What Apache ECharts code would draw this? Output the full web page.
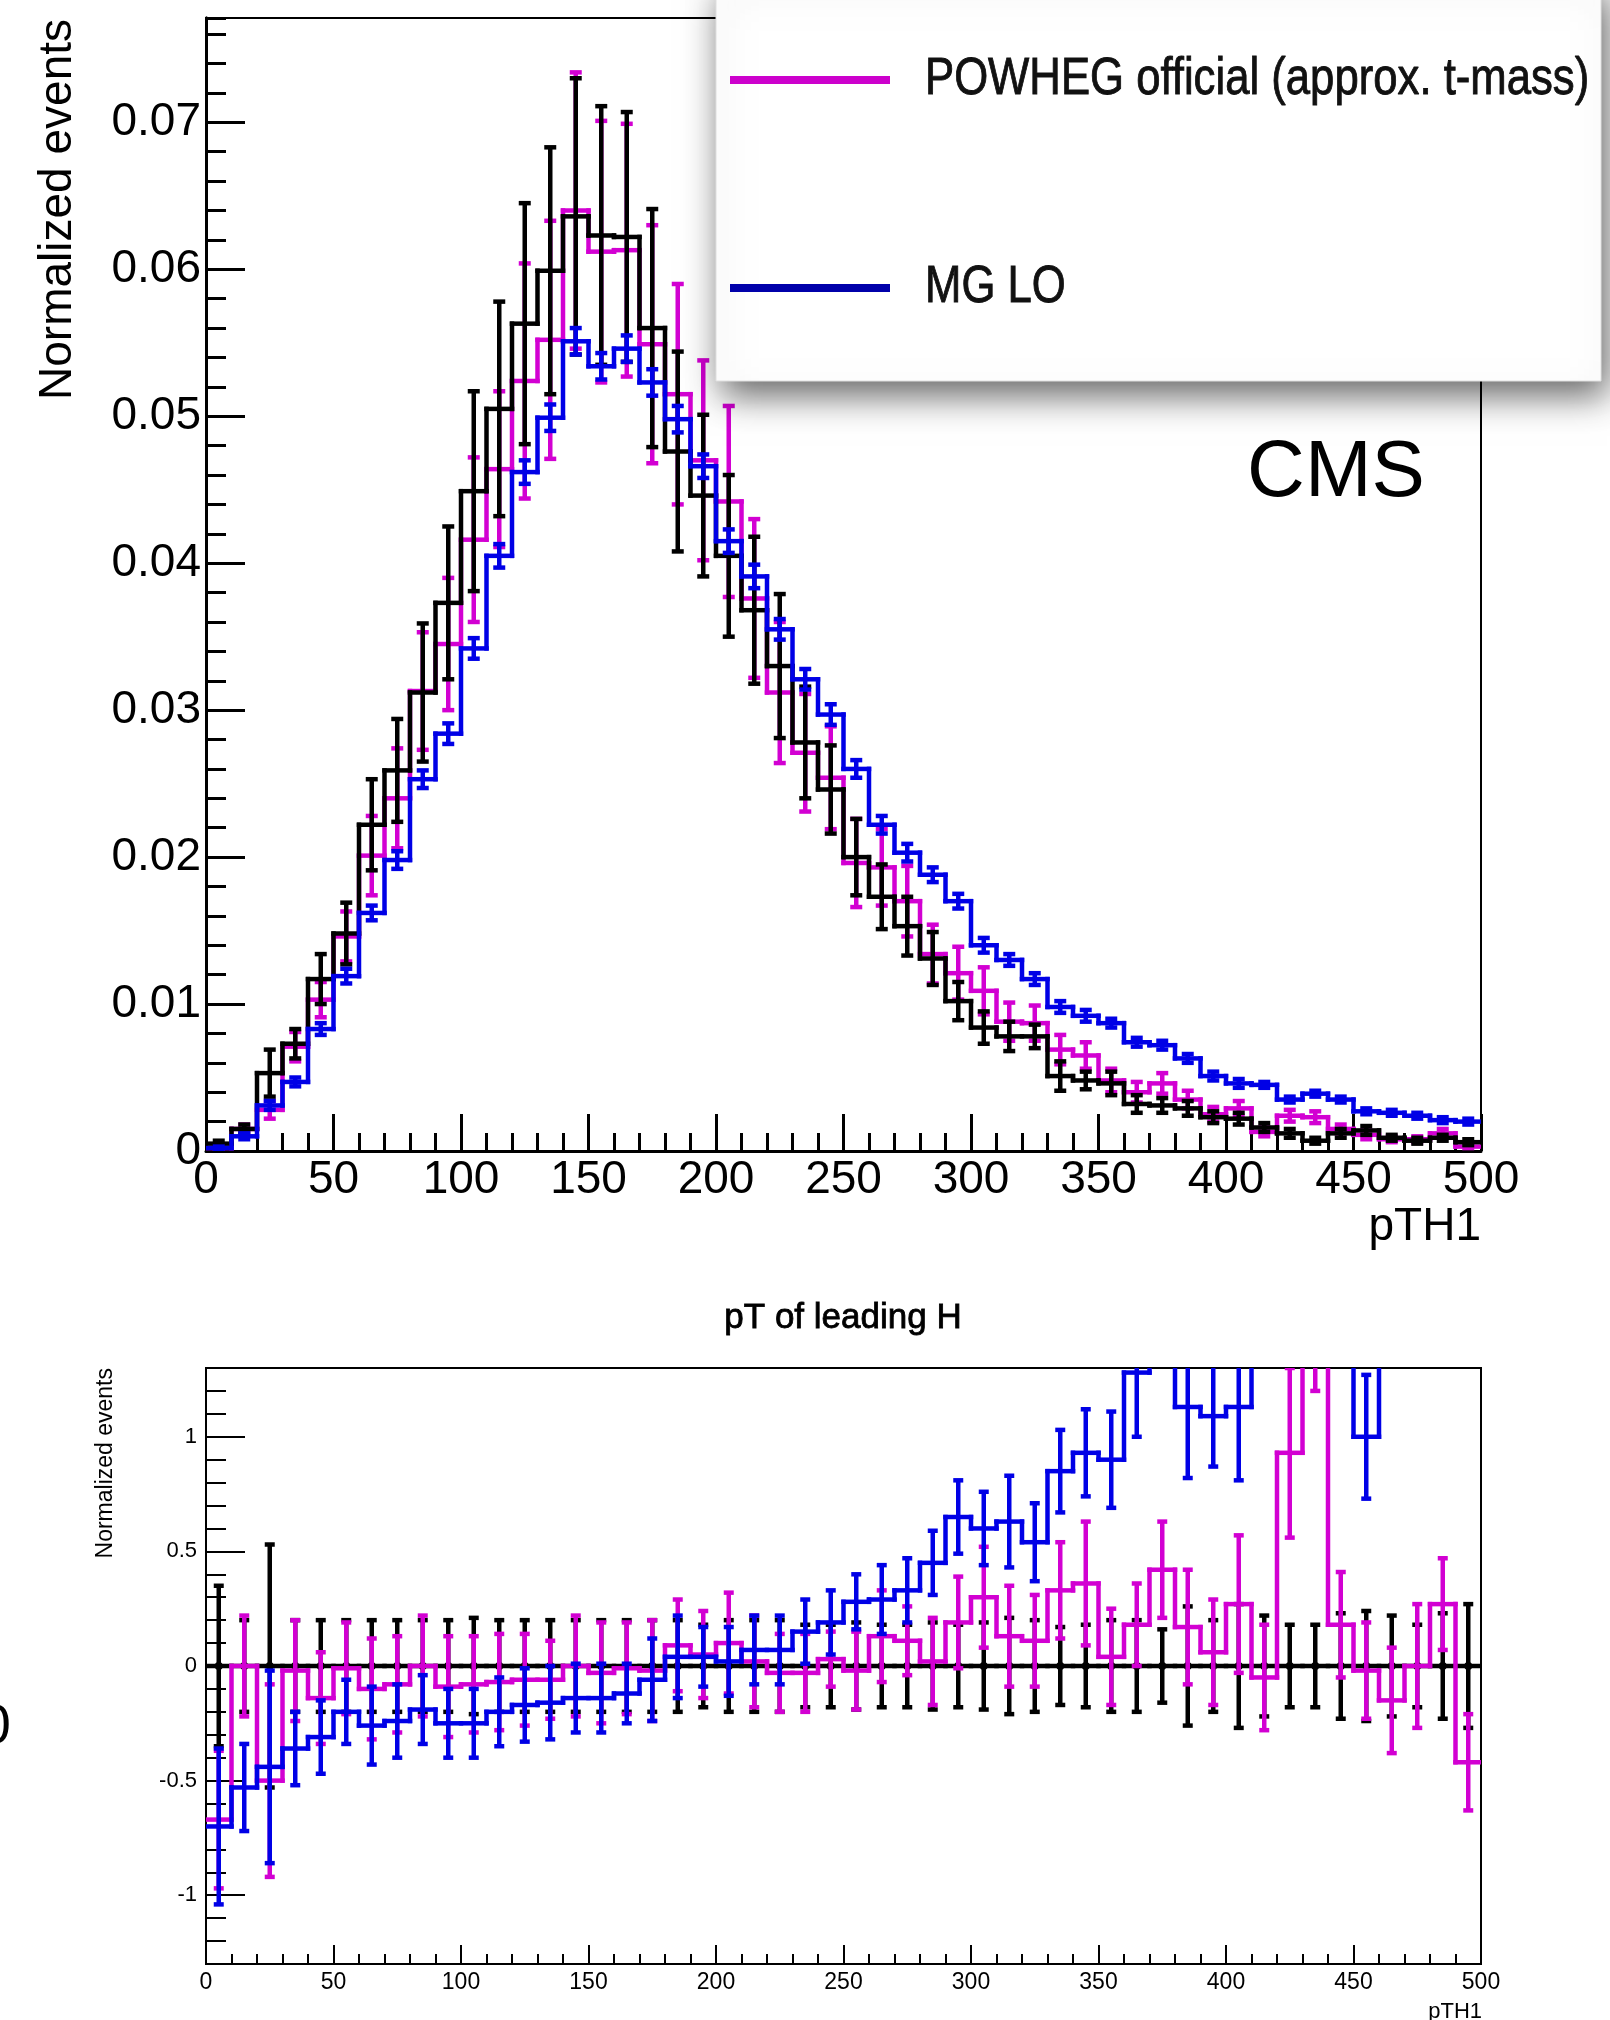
<!DOCTYPE html>
<html><head><meta charset="utf-8">
<script src="https://cdn.jsdelivr.net/npm/echarts@6/dist/echarts.min.js"></script>
<style>html,body{margin:0;padding:0;background:#fff}#c{width:1610px;height:2020px}</style>
</head><body><div id="c"></div>
<script>
// ---------- DATA ----------
const binLow  = [0,10,20,30,40,50,60,70,80,90,100,110,120,130,140,150,160,170,180,190,200,210,220,230,240,250,260,270,280,290,300,310,320,330,340,350,360,370,380,390,400,410,420,430,440,450,460,470,480,490];
const binHigh = [10,20,30,40,50,60,70,80,90,100,110,120,130,140,150,160,170,180,190,200,210,220,230,240,250,260,270,280,290,300,310,320,330,340,350,360,370,380,390,400,410,420,430,440,450,460,470,480,490,500];

// top panel: normalized events
const refVals = [0.0005,0.0015,0.0053,0.0073,0.0117,0.0148,0.0222,0.0259,0.0312,0.0373,0.0449,0.0505,0.0563,0.0599,0.0636,0.0623,0.0622,0.0560,0.0476,0.0446,0.0405,0.0368,0.0330,0.0278,0.0246,0.0200,0.0173,0.0153,0.0131,0.0102,0.0084,0.0078,0.0078,0.0051,0.0048,0.0046,0.0032,0.0031,0.0029,0.0023,0.0022,0.0016,0.0012,0.0007,0.0012,0.0014,0.0009,0.0007,0.0009,0.0006];
const refErrs = [0.0002,0.0003,0.0016,0.0010,0.0017,0.0021,0.0031,0.0035,0.0047,0.0052,0.0068,0.0073,0.0082,0.0084,0.0094,0.0088,0.0085,0.0081,0.0068,0.0055,0.0055,0.0050,0.0049,0.0038,0.0030,0.0026,0.0022,0.0020,0.0018,0.0013,0.0011,0.0010,0.0008,0.0010,0.0006,0.0008,0.0006,0.0005,0.0005,0.0004,0.0004,0.0003,0.0003,0.0002,0.0003,0.0003,0.0002,0.0002,0.0002,0.0002];
const powhegVals = [0.0002,0.0015,0.0028,0.0071,0.0103,0.0146,0.0201,0.0240,0.0313,0.0345,0.0416,0.0464,0.0524,0.0552,0.0640,0.0612,0.0613,0.0549,0.0515,0.0470,0.0442,0.0376,0.0312,0.0271,0.0254,0.0196,0.0193,0.0170,0.0134,0.0121,0.0109,0.0088,0.0087,0.0069,0.0065,0.0048,0.0040,0.0046,0.0035,0.0025,0.0029,0.0013,0.0024,0.0023,0.0015,0.0011,0.0008,0.0008,0.0012,0.0003];
const powhegErrs = [0.0001,0.0003,0.0006,0.0010,0.0012,0.0017,0.0027,0.0034,0.0040,0.0045,0.0056,0.0053,0.0080,0.0081,0.0094,0.0089,0.0086,0.0081,0.0075,0.0068,0.0065,0.0054,0.0048,0.0040,0.0035,0.0030,0.0026,0.0024,0.0020,0.0018,0.0016,0.0013,0.0012,0.0010,0.0009,0.0008,0.0007,0.0007,0.0006,0.0005,0.0005,0.0003,0.0004,0.0004,0.0003,0.0003,0.0002,0.0002,0.0003,0.0001];
const mgloVals = [0.0002,0.0010,0.0031,0.0047,0.0083,0.0119,0.0162,0.0198,0.0253,0.0284,0.0342,0.0405,0.0462,0.0499,0.0551,0.0534,0.0546,0.0523,0.0498,0.0466,0.0415,0.0391,0.0355,0.0321,0.0297,0.0260,0.0222,0.0203,0.0188,0.0170,0.0140,0.0130,0.0117,0.0098,0.0092,0.0087,0.0074,0.0072,0.0063,0.0051,0.0046,0.0045,0.0035,0.0039,0.0035,0.0027,0.0026,0.0024,0.0021,0.0020];
const mgloErrs = [0.0001,0.0002,0.0003,0.0003,0.0004,0.0005,0.0005,0.0006,0.0006,0.0007,0.0007,0.0008,0.0008,0.0009,0.0009,0.0009,0.0009,0.0009,0.0009,0.0008,0.0008,0.0008,0.0007,0.0007,0.0007,0.0006,0.0006,0.0006,0.0005,0.0005,0.0005,0.0004,0.0004,0.0004,0.0004,0.0003,0.0003,0.0003,0.0003,0.0003,0.0003,0.0002,0.0002,0.0002,0.0002,0.0002,0.0002,0.0002,0.0002,0.0002];

// bottom panel: relative difference
const refRatio = [0,0,0,0,0,0,0,0,0,0,0,0,0,0,0,0,0,0,0,0,0,0,0,0,0,0,0,0,0,0,0,0,0,0,0,0,0,0,0,0,0,0,0,0,0,0,0,0,0,0];
const refRatioErr = [0.35,0.20,0.53,0.20,0.20,0.20,0.20,0.20,0.20,0.20,0.21,0.20,0.20,0.20,0.20,0.20,0.20,0.20,0.20,0.18,0.20,0.20,0.20,0.18,0.18,0.19,0.18,0.18,0.19,0.18,0.19,0.21,0.20,0.17,0.18,0.20,0.20,0.16,0.26,0.20,0.27,0.22,0.18,0.18,0.23,0.24,0.22,0.18,0.23,0.27];
const powhegRatio = [-0.67,0.00,-0.50,-0.02,-0.14,-0.01,-0.10,-0.08,0.00,-0.09,-0.08,-0.07,-0.06,-0.06,0.00,-0.03,-0.01,-0.02,0.09,0.05,0.10,0.02,-0.03,-0.03,0.03,-0.02,0.13,0.11,0.02,0.19,0.30,0.13,0.11,0.33,0.36,0.04,0.18,0.42,0.17,0.06,0.27,-0.05,0.93,1.60,0.18,-0.02,-0.15,0.00,0.27,-0.42];
const powhegRatioErr = [0.30,0.22,0.42,0.22,0.20,0.20,0.22,0.21,0.22,0.22,0.21,0.21,0.20,0.17,0.22,0.22,0.20,0.22,0.20,0.19,0.22,0.20,0.17,0.17,0.12,0.17,0.20,0.15,0.19,0.20,0.22,0.22,0.20,0.21,0.27,0.21,0.18,0.21,0.25,0.23,0.30,0.23,0.37,0.40,0.23,0.21,0.23,0.27,0.20,0.21];
const mgloRatio = [-0.70,-0.53,-0.44,-0.36,-0.31,-0.20,-0.26,-0.24,-0.19,-0.25,-0.25,-0.20,-0.17,-0.16,-0.14,-0.14,-0.12,-0.06,0.04,0.04,0.02,0.07,0.07,0.15,0.19,0.28,0.29,0.33,0.45,0.65,0.60,0.63,0.54,0.85,0.93,0.90,1.28,1.70,1.13,1.09,1.13,1.60,1.80,1.70,1.75,1.00,1.90,1.95,2.00,2.10];
const mgloRatioErr = [0.34,0.19,0.42,0.16,0.16,0.14,0.17,0.16,0.15,0.15,0.15,0.15,0.16,0.16,0.15,0.15,0.13,0.18,0.18,0.13,0.15,0.15,0.15,0.14,0.14,0.12,0.15,0.14,0.14,0.16,0.16,0.20,0.17,0.18,0.19,0.21,0.28,0.30,0.31,0.22,0.32,0.25,0.30,0.30,0.30,0.27,0.30,0.30,0.30,0.30];

// texts
const legendLabels = ['POWHEG official (approx. t-mass)', 'MG LO'];
const topTitleX = 'pTH1';
const topTitleY = 'Normalized events';
const bottomTitle = 'pT of leading H';

// ---------- STYLE ----------
const FONT = '"Liberation Sans", Arial, Helvetica, sans-serif';
const C_MAG = '#d200d2';
const C_BLUE = '#0000e6';
const C_BLACK = '#000000';

function mkData(vals, errs) {
  return vals.map((v, i) => [binLow[i], binHigh[i], v, errs[i], i + 1 < vals.length ? vals[i + 1] : v]);
}

function histRender(color, lw, cap, dot) {
  return function (params, api) {
    const lo = api.value(0), hi = api.value(1), v = api.value(2), e = api.value(3), nv = api.value(4);
    const mid = (lo + hi) / 2;
    const a = api.coord([lo, v]), b = api.coord([hi, v]);
    const t = api.coord([mid, v + e]), bt = api.coord([mid, v - e]);
    const n = api.coord([hi, nv]);
    const sStep = { stroke: color, lineWidth: lw, fill: null, lineCap: 'square' };
    const sErr = { stroke: color, lineWidth: lw, fill: null, lineCap: 'butt' };
    const ch = [
      { type: 'line', shape: { x1: a[0], y1: a[1], x2: b[0], y2: b[1] }, style: sStep },
      { type: 'line', shape: { x1: b[0], y1: b[1], x2: n[0], y2: n[1] }, style: sStep },
      { type: 'line', shape: { x1: t[0], y1: t[1], x2: bt[0], y2: bt[1] }, style: sErr },
      { type: 'line', shape: { x1: t[0] - cap, y1: t[1], x2: t[0] + cap, y2: t[1] }, style: sErr },
      { type: 'line', shape: { x1: bt[0] - cap, y1: bt[1], x2: bt[0] + cap, y2: bt[1] }, style: sErr }
    ];
    if (dot) {
      const c = api.coord([mid, v]);
      ch.push({ type: 'circle', shape: { cx: c[0], cy: c[1], r: dot }, style: { fill: color } });
    }
    return { type: 'group', children: ch };
  };
}

function hist(name, xi, yi, vals, errs, color, lw, cap, dot) {
  return {
    type: 'custom', name, xAxisIndex: xi, yAxisIndex: yi, clip: true, silent: true,
    renderItem: histRender(color, lw, cap, dot), encode: { x: [0, 1], y: 2 },
    data: mkData(vals, errs)
  };
}

const lineBlack = (w) => ({ color: '#000', width: w });

const option = {
  animation: false,
  backgroundColor: '#fff',
  grid: [
    { left: 206, top: 18, width: 1275, height: 1133, show: true, borderColor: '#000', borderWidth: 2, backgroundColor: 'rgba(0,0,0,0)' },
    { left: 206, top: 1368, width: 1275, height: 596, show: true, borderColor: '#000', borderWidth: 2, backgroundColor: 'rgba(0,0,0,0)' }
  ],
  xAxis: [
    { gridIndex: 0, type: 'value', position: 'bottom', min: 0, max: 500, interval: 50,
      axisLine: { show: true, onZero: false, lineStyle: lineBlack(3) },
      axisTick: { show: true, inside: true, length: 37, lineStyle: lineBlack(3) },
      minorTick: { show: true, splitNumber: 5, length: 18, lineStyle: lineBlack(3) },
      axisLabel: { fontSize: 46, color: '#000', fontFamily: FONT, margin: 6 },
      splitLine: { show: false }, minorSplitLine: { show: false } },
    { gridIndex: 1, type: 'value', position: 'bottom', min: 0, max: 500, interval: 50,
      axisLine: { show: true, onZero: false, lineStyle: lineBlack(2) },
      axisTick: { show: true, inside: true, length: 19, lineStyle: lineBlack(2) },
      minorTick: { show: true, splitNumber: 5, length: 10, lineStyle: lineBlack(2) },
      axisLabel: { fontSize: 23, color: '#000', fontFamily: FONT, margin: 7 },
      splitLine: { show: false }, minorSplitLine: { show: false } }
  ],
  yAxis: [
    { gridIndex: 0, type: 'value', position: 'left', offset: 0, min: 0, max: 0.0771, interval: 0.01,
      axisLine: { show: true, onZero: false, lineStyle: lineBlack(3) },
      axisTick: { show: true, inside: true, length: 39, lineStyle: lineBlack(3) },
      minorTick: { show: false },
      axisLabel: { fontSize: 46, color: '#000', fontFamily: FONT, margin: 5, showMaxLabel: false },
      splitLine: { show: false } },
    { gridIndex: 0, type: 'value', position: 'left', offset: 0, min: 0, max: 0.0771, interval: 0.002,
      axisLine: { show: true, onZero: false, lineStyle: lineBlack(3) },
      axisTick: { show: true, inside: true, length: 20, lineStyle: lineBlack(3) },
      axisLabel: { show: false }, splitLine: { show: false } },
    { gridIndex: 1, type: 'value', position: 'left', offset: 0, min: -1.3, max: 1.3, splitNumber: 5,
      axisLine: { show: true, onZero: false, lineStyle: lineBlack(2) },
      axisTick: { show: true, inside: true, length: 39, lineStyle: lineBlack(2) },
      minorTick: { show: false },
      axisLabel: { fontSize: 22, color: '#000', fontFamily: FONT, margin: 9, showMinLabel: false, showMaxLabel: false },
      splitLine: { show: false } },
    { gridIndex: 1, type: 'value', position: 'left', offset: 0, min: -1.3, max: 1.3, interval: 0.1,
      axisLine: { show: true, onZero: false, lineStyle: lineBlack(2) },
      axisTick: { show: true, inside: true, length: 20, lineStyle: lineBlack(2) },
      axisLabel: { show: false }, splitLine: { show: false } }
  ],
  series: [
    hist('POWHEG', 0, 0, powhegVals, powhegErrs, C_MAG, 4.5, 6, 0),
    hist('Reference', 0, 0, refVals, refErrs, C_BLACK, 4.5, 6, 0),
    hist('MG LO', 0, 0, mgloVals, mgloErrs, C_BLUE, 4.5, 6, 0),
    hist('Reference ratio', 1, 2, refRatio, refRatioErr, C_BLACK, 4.5, 5, 4),
    hist('POWHEG ratio', 1, 2, powhegRatio, powhegRatioErr, C_MAG, 4.5, 5, 0),
    hist('MG LO ratio', 1, 2, mgloRatio, mgloRatioErr, C_BLUE, 4.5, 5, 0)
  ],
  graphic: [
    { type: 'text', x: 1481, y: 1227, z: 50,
      style: { text: topTitleX, fontSize: 46, fontFamily: FONT, fill: '#000', align: 'right', verticalAlign: 'middle', textAlign: 'right', textVerticalAlign: 'middle' } },
    { type: 'text', x: 58, y: 19, rotation: Math.PI / 2, z: 50,
      style: { text: topTitleY, fontSize: 46, fontFamily: FONT, fill: '#000', align: 'right', verticalAlign: 'middle', textAlign: 'right', textVerticalAlign: 'middle' } },
    { type: 'text', x: 1336, y: 474, z: 50,
      style: { text: 'CMS', fontSize: 80, fontFamily: FONT, fill: '#000', align: 'center', verticalAlign: 'middle', textAlign: 'center', textVerticalAlign: 'middle' } },
    { type: 'text', x: 843, y: 1318, z: 50,
      style: { text: bottomTitle, fontSize: 35, fontFamily: FONT, fill: '#000', stroke: '#000', lineWidth: 0.8, align: 'center', verticalAlign: 'middle', textAlign: 'center', textVerticalAlign: 'middle' } },
    { type: 'text', x: 106, y: 1368, rotation: Math.PI / 2, z: 50,
      style: { text: topTitleY, fontSize: 23, fontFamily: FONT, fill: '#000', align: 'right', verticalAlign: 'middle', textAlign: 'right', textVerticalAlign: 'middle' } },
    { type: 'text', x: 1482, y: 2012, z: 50,
      style: { text: topTitleX, fontSize: 22, fontFamily: FONT, fill: '#000', align: 'right', verticalAlign: 'middle', textAlign: 'right', textVerticalAlign: 'middle' } },
    { type: 'text', x: 11, y: 1728, z: 50,
      style: { text: '0', fontSize: 56, fontFamily: FONT, fill: '#000', align: 'right', verticalAlign: 'middle', textAlign: 'right', textVerticalAlign: 'middle' } },
    // legend box
    { type: 'rect', z: 100, shape: { x: 716, y: -20, width: 885, height: 401 },
      style: { fill: '#fff', stroke: '#e0e0e0', lineWidth: 1, shadowBlur: 34, shadowColor: 'rgba(0,0,0,0.6)', shadowOffsetX: 6, shadowOffsetY: 14 } },
    { type: 'line', z: 101, shape: { x1: 730, y1: 80, x2: 890, y2: 80 }, style: { stroke: '#cc00cc', lineWidth: 8 } },
    { type: 'line', z: 101, shape: { x1: 730, y1: 288, x2: 890, y2: 288 }, style: { stroke: '#0000aa', lineWidth: 8 } },
    { type: 'text', z: 101, x: 925, y: 80, scaleX: 0.84,
      style: { text: legendLabels[0], fontSize: 52, fontFamily: FONT, fill: '#111', stroke: '#111', lineWidth: 0.9, align: 'left', verticalAlign: 'middle', textAlign: 'left', textVerticalAlign: 'middle' } },
    { type: 'text', z: 101, x: 925, y: 288, scaleX: 0.84,
      style: { text: legendLabels[1], fontSize: 52, fontFamily: FONT, fill: '#111', stroke: '#111', lineWidth: 0.9, align: 'left', verticalAlign: 'middle', textAlign: 'left', textVerticalAlign: 'middle' } }
  ]
};

const chart = echarts.init(document.getElementById('c'), null, { renderer: 'canvas', width: 1610, height: 2020 });
chart.setOption(option);
</script>
</body></html>
